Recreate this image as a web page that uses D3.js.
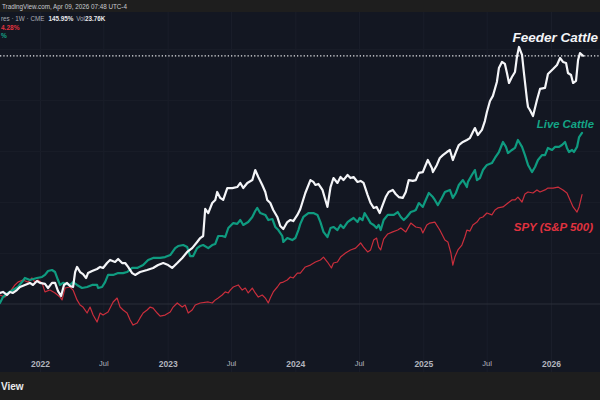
<!DOCTYPE html>
<html>
<head>
<meta charset="utf-8">
<script src="https://cdn.jsdelivr.net/npm/d3@7"></script>
<style>
  html, body { margin: 0; padding: 0; background: #131722; }
  svg { display: block; font-family: "Liberation Sans", Arial, sans-serif; }
</style>
</head>
<body>
<svg id="chart" width="600" height="400"></svg>
<script>
// % change since start, weekly closes; time as decimal year
var feederT = [2021.686,2021.710,2021.741,2021.764,2021.788,2021.819,2021.843,2021.882,2021.921,2021.945,2021.976,2022.000,2022.039,2022.063,2022.094,2022.118,2022.141,2022.165,2022.188,2022.212,2022.235,2022.259,2022.275,2022.290,2022.314,2022.337,2022.361,2022.376,2022.408,2022.447,2022.471,2022.494,2022.525,2022.549,2022.588,2022.612,2022.643,2022.667,2022.690,2022.722,2022.745,2022.784,2022.839,2022.886,2022.925,2022.965,2023.004,2023.035,2023.075,2023.114,2023.153,2023.192,2023.231,2023.255,2023.278,2023.294,2023.318,2023.349,2023.373,2023.388,2023.412,2023.435,2023.467,2023.506,2023.545,2023.569,2023.592,2023.624,2023.663,2023.686,2023.710,2023.741,2023.765,2023.780,2023.804,2023.827,2023.859,2023.882,2023.906,2023.937,2023.961,2023.984,2024.016,2024.039,2024.078,2024.118,2024.141,2024.157,2024.180,2024.212,2024.235,2024.251,2024.275,2024.298,2024.329,2024.353,2024.376,2024.408,2024.431,2024.455,2024.486,2024.510,2024.533,2024.565,2024.588,2024.612,2024.635,2024.659,2024.682,2024.706,2024.729,2024.761,2024.784,2024.808,2024.839,2024.863,2024.886,2024.918,2024.941,2024.965,2024.996,2025.012,2025.035,2025.067,2025.075,2025.106,2025.129,2025.153,2025.184,2025.208,2025.231,2025.255,2025.278,2025.310,2025.341,2025.365,2025.388,2025.404,2025.427,2025.459,2025.482,2025.498,2025.522,2025.545,2025.576,2025.592,2025.616,2025.639,2025.655,2025.671,2025.694,2025.718,2025.733,2025.749,2025.773,2025.788,2025.812,2025.820,2025.835,2025.859,2025.890,2025.914,2025.953,2025.976,2025.992,2026.016,2026.047,2026.071,2026.094,2026.118,2026.133,2026.157,2026.173,2026.196,2026.212,2026.227,2026.251];
var feederV = [6.5,7.1,5.3,7.1,6.5,8.2,10.0,11.2,12.4,11.2,13.5,12.4,11.8,9.4,12.4,12.4,7.6,4.7,11.2,12.4,10.6,10.0,18.8,21.8,18.8,17.6,15.3,18.2,19.4,20.6,21.8,21.2,24.1,25.9,24.7,26.5,24.1,24.1,21.8,18.2,17.1,18.8,20.0,21.2,22.9,24.1,22.9,21.2,24.1,27.1,30.6,32.9,36.5,38.8,40.0,55.9,53.5,59.4,61.2,65.9,62.4,61.2,68.2,68.2,68.8,71.2,68.2,71.2,72.9,78.8,74.7,70.0,65.9,61.2,59.4,55.3,51.2,45.9,44.1,48.2,49.4,48.8,52.4,55.9,65.3,72.9,71.8,70.0,70.6,67.1,61.2,57.1,68.8,74.1,71.2,74.7,72.9,75.9,74.1,74.7,71.8,72.4,71.2,64.1,59.4,56.5,57.1,53.5,58.2,62.9,65.9,67.1,64.7,62.9,62.4,65.9,72.9,72.4,72.9,77.1,77.6,80.6,84.7,80.0,77.6,81.8,85.9,87.6,89.4,90.6,84.7,89.4,93.5,95.3,96.5,97.6,101.2,103.5,99.4,102.4,107.6,112.9,119.4,122.4,130.6,138.8,142.4,141.2,135.9,130.0,133.5,136.5,145.3,151.2,146.5,135.9,120.0,115.9,114.1,110.6,120.0,126.5,127.1,135.3,136.5,138.2,140.6,144.7,142.4,141.8,135.9,134.7,130.0,131.2,143.5,147.6,146.0];

var liveT = [2021.686,2021.710,2021.749,2021.788,2021.827,2021.859,2021.882,2021.921,2021.976,2022.016,2022.039,2022.063,2022.094,2022.118,2022.141,2022.157,2022.180,2022.235,2022.259,2022.290,2022.329,2022.369,2022.408,2022.447,2022.455,2022.486,2022.510,2022.533,2022.573,2022.612,2022.651,2022.682,2022.722,2022.761,2022.808,2022.847,2022.886,2022.941,2022.980,2023.020,2023.059,2023.082,2023.122,2023.153,2023.176,2023.200,2023.231,2023.255,2023.278,2023.318,2023.349,2023.373,2023.396,2023.427,2023.451,2023.475,2023.514,2023.545,2023.569,2023.592,2023.631,2023.663,2023.686,2023.702,2023.725,2023.765,2023.788,2023.820,2023.843,2023.867,2023.898,2023.906,2023.937,2023.976,2024.000,2024.024,2024.039,2024.063,2024.102,2024.141,2024.173,2024.196,2024.220,2024.251,2024.275,2024.298,2024.329,2024.353,2024.376,2024.408,2024.431,2024.455,2024.486,2024.502,2024.525,2024.541,2024.565,2024.588,2024.612,2024.635,2024.651,2024.667,2024.690,2024.722,2024.745,2024.769,2024.800,2024.824,2024.847,2024.871,2024.902,2024.925,2024.941,2024.965,2024.996,2025.012,2025.043,2025.075,2025.090,2025.114,2025.145,2025.169,2025.208,2025.231,2025.255,2025.278,2025.310,2025.341,2025.349,2025.380,2025.404,2025.420,2025.443,2025.467,2025.498,2025.537,2025.561,2025.592,2025.624,2025.647,2025.663,2025.694,2025.718,2025.741,2025.773,2025.796,2025.820,2025.851,2025.875,2025.898,2025.929,2025.953,2025.976,2026.008,2026.031,2026.063,2026.086,2026.110,2026.125,2026.141,2026.165,2026.180,2026.204,2026.220,2026.243];
var liveV = [0.6,4.1,6.5,8.2,10.0,12.9,15.3,14.1,15.3,15.9,17.1,19.4,20.0,18.8,14.1,11.2,12.4,11.2,12.9,11.2,9.4,10.0,11.2,11.2,9.4,10.0,12.9,17.1,17.1,18.2,18.2,18.8,21.2,21.2,22.9,25.9,27.1,27.1,27.6,28.8,32.9,34.1,34.7,33.5,28.2,28.2,32.9,34.1,34.7,32.9,34.7,35.3,40.0,40.0,39.4,44.7,47.6,47.1,49.4,46.5,48.2,51.2,54.7,56.5,53.5,52.4,49.4,50.0,45.3,43.5,40.0,36.5,38.8,37.6,38.8,43.5,47.1,51.2,53.5,53.5,52.4,48.2,42.4,39.4,44.7,45.3,43.5,46.5,44.7,48.2,49.4,50.6,48.2,50.6,49.4,53.5,50.6,47.6,46.5,44.7,46.5,43.5,49.4,52.4,52.4,52.4,54.1,51.2,49.4,51.2,54.1,54.7,55.3,59.4,57.1,60.0,65.3,62.9,61.2,58.2,62.4,65.9,67.1,62.4,65.3,70.0,72.9,68.8,71.8,75.9,78.8,72.9,74.1,78.8,81.8,82.9,85.9,89.4,95.3,92.4,88.8,90.6,91.8,96.5,92.4,87.6,81.8,77.6,80.6,84.7,87.6,87.6,91.8,90.6,92.4,92.4,93.5,95.3,91.8,89.4,90.6,89.4,92.4,98.2,100.6];

var spyT = [2021.686,2021.725,2021.764,2021.804,2021.827,2021.866,2021.906,2021.937,2021.961,2021.984,2022.016,2022.039,2022.078,2022.118,2022.157,2022.173,2022.196,2022.235,2022.259,2022.290,2022.314,2022.337,2022.369,2022.392,2022.416,2022.447,2022.471,2022.494,2022.533,2022.573,2022.604,2022.627,2022.651,2022.682,2022.706,2022.729,2022.761,2022.784,2022.808,2022.839,2022.863,2022.886,2022.918,2022.941,2022.980,2023.020,2023.043,2023.075,2023.114,2023.137,2023.161,2023.192,2023.216,2023.255,2023.318,2023.349,2023.373,2023.396,2023.427,2023.451,2023.475,2023.490,2023.514,2023.553,2023.584,2023.608,2023.631,2023.663,2023.686,2023.710,2023.741,2023.765,2023.788,2023.804,2023.827,2023.859,2023.882,2023.906,2023.937,2023.961,2023.984,2024.016,2024.039,2024.078,2024.118,2024.157,2024.196,2024.220,2024.251,2024.282,2024.298,2024.329,2024.353,2024.392,2024.431,2024.471,2024.510,2024.533,2024.565,2024.588,2024.612,2024.635,2024.651,2024.667,2024.690,2024.722,2024.761,2024.800,2024.824,2024.863,2024.902,2024.941,2024.980,2024.996,2025.027,2025.051,2025.090,2025.129,2025.169,2025.192,2025.216,2025.231,2025.247,2025.271,2025.302,2025.325,2025.341,2025.365,2025.388,2025.420,2025.443,2025.467,2025.498,2025.537,2025.561,2025.584,2025.624,2025.663,2025.694,2025.718,2025.741,2025.773,2025.796,2025.820,2025.859,2025.890,2025.914,2025.953,2025.976,2026.016,2026.055,2026.094,2026.125,2026.149,2026.173,2026.204,2026.220,2026.243];
var spyV = [5.3,4.1,7.1,11.2,12.9,14.1,12.9,15.3,12.9,14.1,12.4,7.1,8.2,6.5,4.1,2.4,9.4,10.0,8.2,2.4,-0.6,-1.8,-5.3,-1.8,-6.5,-10.6,-5.3,-6.5,-4.7,1.2,3.5,-1.8,-3.5,-5.3,-9.4,-12.4,-11.2,-8.2,-5.3,-3.5,-1.8,-2.4,-5.3,-7.1,-6.5,-4.7,-1.8,0.6,-1.8,-0.6,-5.3,-3.5,-0.6,0.6,1.2,0.6,2.4,3.5,5.3,7.1,6.5,8.2,10.0,11.2,8.2,9.4,6.5,9.4,6.5,4.1,5.3,3.5,0.6,3.5,7.1,10.0,12.4,12.9,14.1,15.9,15.3,18.2,18.2,21.8,22.9,24.7,25.9,27.6,24.7,21.2,24.1,24.7,27.6,30.0,31.8,32.9,35.9,33.5,30.6,31.8,37.6,38.8,33.5,31.8,38.2,41.2,42.4,43.5,44.7,42.4,47.6,45.3,44.7,41.8,46.5,47.6,48.2,43.5,37.6,36.5,30.0,22.9,27.6,31.8,34.7,39.4,43.5,42.9,46.5,48.2,50.6,51.2,53.5,52.4,55.3,56.5,57.1,59.4,61.2,61.2,62.9,60.0,64.7,65.9,65.3,67.1,65.9,67.1,68.2,68.2,68.8,67.1,65.3,61.2,57.1,54.1,57.1,64.3];

var tickDates = ["2022-01-01","2022-07-01","2023-01-01","2023-07-01","2024-01-01","2024-07-01","2025-01-01","2025-07-01","2026-01-01"];
var tickLabels = ["2022","Jul","2023","Jul","2024","Jul","2025","Jul","2026"];
var gridPct = [30, 60, 90, 120, 150];

var W = 600, H = 400;
var svg = d3.select("#chart");

function toDate(t) {
    var yr = Math.floor(t);
    var a = Date.UTC(yr, 0, 1), b = Date.UTC(yr + 1, 0, 1);
    return new Date(a + (t - yr) * (b - a));
}

var x = d3.scaleUtc()
    .domain([new Date(Date.UTC(2022, 0, 1)), new Date(Date.UTC(2026, 0, 1))])
    .range([40, 551]);

var y = d3.scaleLinear()
    .domain([0, 100])
    .range([304, 134]);

// backgrounds
svg.append("rect").attr("width", W).attr("height", H).attr("fill", "#131722");
svg.append("rect").attr("width", W).attr("height", 12).attr("fill", "#1e1e1e");
svg.append("rect").attr("y", 372).attr("width", W).attr("height", 28).attr("fill", "#1e1e1e");

// grid
var xAxis = d3.axisBottom(x)
    .tickValues(tickDates.map(d => new Date(d + "T00:00:00Z")))
    .tickSize(-360)
    .tickFormat((d, i) => tickLabels[i]);

var gx = svg.append("g")
    .attr("transform", "translate(0,372)")
    .call(xAxis);
gx.select(".domain").remove();
gx.selectAll(".tick line").attr("stroke", "#1a1e2a").attr("stroke-width", 1);
gx.selectAll(".tick text")
    .attr("y", -11)
    .attr("fill", "#b2b5be")
    .style("font-family", "'Liberation Sans', Arial, sans-serif")
    .style("font-size", (d, i) => tickLabels[i] === "Jul" ? "7.5px" : "8.5px")
    .style("font-weight", (d, i) => tickLabels[i] === "Jul" ? "normal" : "bold");

var gy = svg.append("g")
    .call(d3.axisLeft(y).tickValues(gridPct).tickSize(-W).tickFormat(""));
gy.select(".domain").remove();
gy.selectAll(".tick line").attr("stroke", "#181c27").attr("stroke-width", 1);

// zero baseline
svg.append("line")
    .attr("x1", 0).attr("x2", W)
    .attr("y1", y(0)).attr("y2", y(0))
    .attr("stroke", "#2a2e39")
    .attr("stroke-width", 1);

// series
var series = [
    { t: spyT, v: spyV, color: "#c92e3c", width: 1.2 },
    { t: liveT, v: liveV, color: "#0f9b80", width: 2.2 },
    { t: feederT, v: feederV, color: "#f4f5f8", width: 2.2 }
];

var line = d3.line()
    .x(d => x(d[0]))
    .y(d => y(d[1]));

svg.append("clipPath").attr("id", "plot")
    .append("rect").attr("x", 0).attr("y", 12).attr("width", W).attr("height", 360);

var plot = svg.append("g").attr("clip-path", "url(#plot)");

// last price line for Feeder Cattle
plot.append("line")
    .attr("x1", 0).attr("x2", W)
    .attr("y1", y(feederV[feederV.length - 1]))
    .attr("y2", y(feederV[feederV.length - 1]))
    .attr("stroke", "#e8e9ec")
    .attr("stroke-width", 1.2)
    .attr("stroke-dasharray", "1.3,2");

series.forEach(function (s) {
    plot.append("path")
        .datum(s.t.map((t, i) => [toDate(t), s.v[i]]))
        .attr("fill", "none")
        .attr("stroke", s.color)
        .attr("stroke-width", s.width)
        .attr("stroke-linejoin", "round")
        .attr("stroke-linecap", "round")
        .attr("d", line);
});

// series labels
var labels = [
    { text: "Feeder Cattle", x: 598, y: 42, size: 13.5, color: "#f4f5f8" },
    { text: "Live Cattle", x: 594, y: 128, size: 11.3, color: "#14a586" },
    { text: "SPY (S&P 500)", x: 593, y: 231, size: 11.5, color: "#e0323f" }
];
svg.selectAll(".slabel")
    .data(labels)
    .enter().append("text")
    .attr("class", "slabel")
    .attr("x", d => d.x)
    .attr("y", d => d.y)
    .attr("text-anchor", "end")
    .attr("fill", d => d.color)
    .style("font-size", d => d.size + "px")
    .style("font-weight", "bold")
    .style("font-style", "italic")
    .text(d => d.text);

// header texts (only the part visible in the screenshot)
svg.append("text")
    .attr("x", 2).attr("y", 8.5)
    .attr("fill", "#c8cad0")
    .style("font-size", "6.3px")
    .text("TradingView.com, Apr 09, 2026 07:48 UTC-4");

var leg = svg.append("text")
    .attr("x", 1).attr("y", 20.5)
    .style("font-size", "6.3px");
leg.append("tspan").attr("fill", "#a9acb5").text("res · 1W · CME");
leg.append("tspan").attr("fill", "#e8e9ec").attr("dx", 4).style("font-weight", "bold").text("145.95%");
leg.append("tspan").attr("fill", "#a9acb5").attr("dx", 3).text("Vol");
leg.append("tspan").attr("fill", "#e8e9ec").style("font-weight", "bold").text("23.76K");

svg.append("text")
    .attr("x", 1).attr("y", 29.5)
    .attr("fill", "#e0323f")
    .style("font-size", "6.5px")
    .style("font-weight", "bold")
    .text("4.28%");

svg.append("text")
    .attr("x", 1).attr("y", 37.5)
    .attr("fill", "#14a586")
    .style("font-size", "6.5px")
    .style("font-weight", "bold")
    .text("%");

// footer
svg.append("text")
    .attr("x", 1).attr("y", 390)
    .attr("fill", "#e8e9ec")
    .style("font-size", "10px")
    .style("font-weight", "bold")
    .text("View");
</script>
</body>
</html>
